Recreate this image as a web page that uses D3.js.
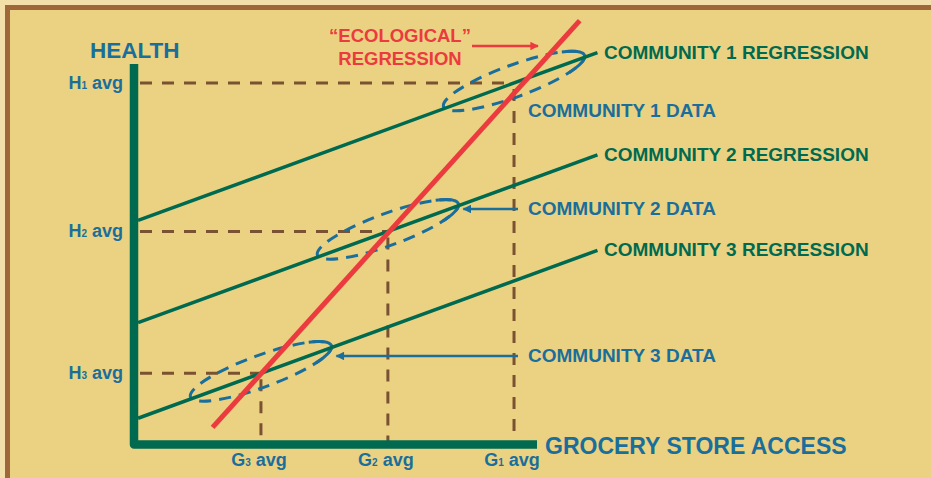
<!DOCTYPE html>
<html>
<head>
<meta charset="utf-8">
<script src="https://cdn.jsdelivr.net/npm/d3@7"></script>
<style>
  body { margin: 0; background: #f3dfa9; }
  svg { display: block; font-family: "Liberation Sans", Arial, sans-serif; font-weight: bold; }
</style>
</head>
<body>
<script>
// values (arbitrary units, 0..100 on both axes)
const communities = ["1", "2", "3"];
const gAvg = [94.3, 63, 31.5];      // grocery store access averages
const hAvg = [95, 56, 18.7];        // health averages
const withinSlope = 0.387;          // slope of each community regression
const regStartX = 1, regEndX = 115;
const ecoX = [19.5, 110.6];         // "ecological" regression end points
const ecoY = [4.5, 111.4];

const width = 931, height = 478;
const green = "#006a50", blue = "#1a6e9c", red = "#ec3b3e", brown = "#7a5231";

const x = d3.scaleLinear().domain([0, 100]).range([134, 537]);
const y = d3.scaleLinear().domain([0, 100]).range([444.5, 64]);

const svg = d3.select("body").append("svg")
    .attr("width", width)
    .attr("height", height);

// frame
svg.append("rect").attr("width", width).attr("height", height).attr("fill", "#f3dfa9");
svg.append("rect").attr("x", 5).attr("y", 5).attr("width", width).attr("height", height).attr("fill", "#a0683a");
svg.append("rect").attr("x", 10).attr("y", 10).attr("width", width).attr("height", height).attr("fill", "#ebd282");

const defs = svg.append("defs");
[["headBlue", blue], ["headRed", red]].forEach(([id, c]) => {
  defs.append("marker")
      .attr("id", id)
      .attr("viewBox", "0 0 10 10")
      .attr("refX", 9).attr("refY", 5)
      .attr("markerWidth", 4.2).attr("markerHeight", 3.4)
      .attr("markerUnits", "strokeWidth")
      .attr("orient", "auto")
    .append("path")
      .attr("d", "M0,0L10,5L0,10Z")
      .attr("fill", c);
});

const rows = communities.map((c, i) => ({c, g: gAvg[i], h: hAvg[i]}));

// brown guide lines from the axes to each average
const guides = svg.append("g")
    .attr("fill", "none")
    .attr("stroke", brown)
    .attr("stroke-width", 3)
    .attr("stroke-dasharray", "12,10");
guides.selectAll(".hg").data(rows).join("line")
    .attr("x1", x(0) + 6).attr("x2", d => x(d.g))
    .attr("y1", d => y(d.h)).attr("y2", d => y(d.h));
guides.selectAll(".vg").data(rows).join("line")
    .attr("x1", d => x(d.g)).attr("x2", d => x(d.g))
    .attr("y1", d => y(d.h) + 6).attr("y2", y(0));

// dashed data ellipses around each average
const angle = -Math.atan(withinSlope * (y(0) - y(1)) / (x(1) - x(0))) * 180 / Math.PI;
const ea = 75, eb = 16;
const ell = svg.append("g").attr("fill", "none").attr("stroke", blue).attr("stroke-width", 3);
ell.selectAll("ellipse").data(rows).join("ellipse")
    .attr("transform", d => `translate(${x(d.g)},${y(d.h) - 2}) rotate(${angle})`)
    .attr("rx", ea).attr("ry", eb)
    .attr("stroke-dasharray", "12,8")
    .attr("stroke-dashoffset", 4);
const tipArc = d3.range(-0.75, 0.76, 0.05).map(t => [ea * Math.cos(t), eb * Math.sin(t)]);
ell.selectAll("path").data(rows).join("path")
    .attr("transform", d => `translate(${x(d.g)},${y(d.h) - 2}) rotate(${angle})`)
    .attr("d", d3.line()(tipArc));

// community regressions
const regLine = d3.line().x(d => x(d[0])).y(d => y(d[1]));
svg.append("g").selectAll("path").data(rows).join("path")
    .attr("fill", "none")
    .attr("stroke", green)
    .attr("stroke-width", 3.5)
    .attr("d", d => regLine([regStartX, regEndX].map(v => [v, d.h + withinSlope * (v - d.g)])));

// ecological regression
svg.append("path")
    .attr("fill", "none")
    .attr("stroke", red)
    .attr("stroke-width", 5)
    .attr("d", regLine(ecoX.map((v, i) => [v, ecoY[i]])));

// axes
svg.append("path")
    .attr("fill", "none")
    .attr("stroke", green)
    .attr("stroke-width", 8.5)
    .attr("stroke-linejoin", "round")
    .attr("d", `M${x(0)},${y(100)}V${y(0)}H${x(100)}`);

// axis labels
svg.append("text").attr("x", 90).attr("y", 58).attr("fill", blue)
    .attr("font-size", 22.5).text("HEALTH");
svg.append("text").attr("x", 545).attr("y", 454).attr("fill", blue)
    .attr("font-size", 23).text("GROCERY STORE ACCESS");

// tick labels H1..H3, G1..G3
const hLab = svg.append("g").attr("fill", blue).attr("text-anchor", "end").attr("font-size", 18);
const ht = hLab.selectAll("text").data(rows).join("text")
    .attr("x", 123).attr("y", d => y(d.h) + 6);
ht.append("tspan").text("H");
ht.append("tspan").attr("font-size", 10).text(d => d.c);
ht.append("tspan").text(" avg");

const gLab = svg.append("g").attr("fill", blue).attr("text-anchor", "middle").attr("font-size", 18);
const gt = gLab.selectAll("text").data(rows).join("text")
    .attr("x", d => x(d.g) - 2).attr("y", 466);
gt.append("tspan").text("G");
gt.append("tspan").attr("font-size", 10).text(d => d.c);
gt.append("tspan").text(" avg");

// series labels
svg.append("g").attr("fill", green).attr("font-size", 19)
  .selectAll("text").data(rows).join("text")
    .attr("x", 604)
    .attr("y", d => y(d.h + withinSlope * (regEndX - d.g)) + 6)
    .text(d => `COMMUNITY ${d.c} REGRESSION`);

const dataLabelY = [117, 215, 362];
svg.append("g").attr("fill", blue).attr("font-size", 19)
  .selectAll("text").data(rows).join("text")
    .attr("x", 528)
    .attr("y", (d, i) => dataLabelY[i])
    .text(d => `COMMUNITY ${d.c} DATA`);

// pointer arrows for community 2 and 3 data
svg.append("g").selectAll("line").data(rows.slice(1)).join("line")
    .attr("x1", 518)
    .attr("x2", d => x(d.g) + ea * Math.cos(angle * Math.PI / 180) + 5)
    .attr("y1", (d, i) => dataLabelY[i + 1] - 6)
    .attr("y2", (d, i) => dataLabelY[i + 1] - 6)
    .attr("stroke", blue)
    .attr("stroke-width", 2.5)
    .attr("marker-end", "url(#headBlue)");

// ecological label
const eco = svg.append("text").attr("fill", red).attr("font-size", 18.5).attr("text-anchor", "middle");
eco.append("tspan").attr("x", 400).attr("y", 42).text("\u201CECOLOGICAL\u201D");
eco.append("tspan").attr("x", 400).attr("y", 65).text("REGRESSION");
svg.append("line")
    .attr("x1", 472).attr("x2", 538)
    .attr("y1", 46).attr("y2", 46)
    .attr("stroke", red)
    .attr("stroke-width", 2.5)
    .attr("marker-end", "url(#headRed)");
</script>
</body>
</html>
